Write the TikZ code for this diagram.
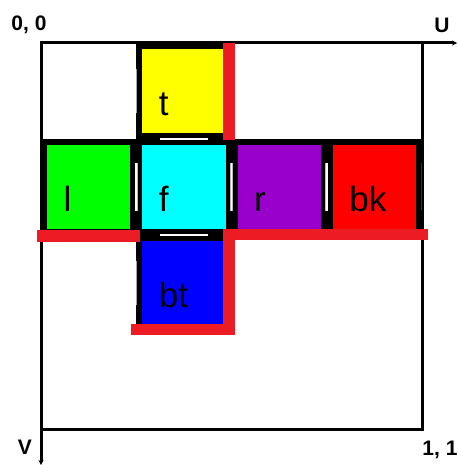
\documentclass[tikz,border=0pt]{standalone}
\usepackage{fontspec}
\setmainfont{Liberation Sans}
\usetikzlibrary{arrows.meta}
\definecolor{seamred}{HTML}{ED1C24}
\definecolor{tyellow}{HTML}{FFFF00}
\definecolor{lgreen}{HTML}{00FF00}
\definecolor{fcyan}{HTML}{00FFFF}
\definecolor{rpurple}{HTML}{9900CC}
\definecolor{bkred}{HTML}{FF0000}
\definecolor{btblue}{HTML}{0000FF}
\tikzset{
  face/.style={draw=black, line width=6pt, minimum width=89.25pt, minimum height=90pt,
    inner sep=0pt, outer sep=3pt},
  facelbl/.style={anchor=base west, inner sep=0pt, font=\fontsize{35}{40}\selectfont},
  cornerlbl/.style={inner sep=0pt, font=\fontsize{21}{24}\selectfont\bfseries},
  axis/.style={line width=3pt, -{Stealth[length=5pt, width=5pt]}},
  gluemark/.style={draw=gray!55, line width=0.5pt, double=white, double distance=1.6pt},
  faintmark/.style={draw=gray!70, line width=0.8pt},
  seam/.style={fill=seamred},
}
\begin{document}
\begin{tikzpicture}[x=1pt, y=-1pt]
  \useasboundingbox (0,0) rectangle (457,465);
  % frame and axes
  \coordinate (o) at (41,43);
  \coordinate (far) at (422,429);
  \coordinate (uend) at (457,43);
  \coordinate (vend) at (41,465);
  \draw[line width=3pt] (o) rectangle (far);
  \draw[axis] (o) -- (uend);
  \draw[axis] (o) -- (vend);
  \node[cornerlbl] (origin-lbl) at (29,25) {0, 0};
  \node[cornerlbl] (u-lbl) at (442,25) {U};
  \node[cornerlbl] (v-lbl) at (25,447) {V};
  \node[cornerlbl] (end-lbl) at (440,450) {1, 1};
  % faces of the unfolded cube
  \foreach \n/\c/\r/\col in {t/1/0/tyellow, l/0/1/lgreen, f/1/1/fcyan, r/2/1/rpurple, bk/3/1/bkred, bt/1/2/btblue} {
    \node[face, fill=\col] (\n) at ({41+95.25*(\c+0.5)}, {43+96*(\r+0.5)}) {};
    \node[facelbl] (\n-lbl) at ([shift={(22.5,72.5)}]\n.north west) {\n};
  }
  % glued edges
  \draw[gluemark] ([xshift=-24pt]t.south) -- ([xshift=24pt]t.south);
  \draw[gluemark] ([xshift=-24pt]f.south) -- ([xshift=24pt]f.south);
  \foreach \a in {l, f, r} {
    \draw[gluemark] ([yshift=24pt]\a.east) -- ([yshift=-24pt]\a.east);
  }
  \draw[faintmark] ([yshift=22pt]t.west) -- ([yshift=-22pt]t.west);
  \draw[faintmark] ([yshift=22pt]bt.west) -- ([yshift=-22pt]bt.west);
  \draw[faintmark, draw=black!80] ([xshift=-1pt, yshift=24pt]bk.east) -- ([xshift=-1pt, yshift=-23pt]bk.east);
  % cut seams
  \fill[seam] (223,43) rectangle (235,140);
  \fill[seam] (37,230) rectangle (140,242);
  \fill[seam] (223,229) rectangle (428,240);
  \fill[seam] (223,232) rectangle (235,335);
  \fill[seam] (131,324) rectangle (235,335);
\end{tikzpicture}
\end{document}
